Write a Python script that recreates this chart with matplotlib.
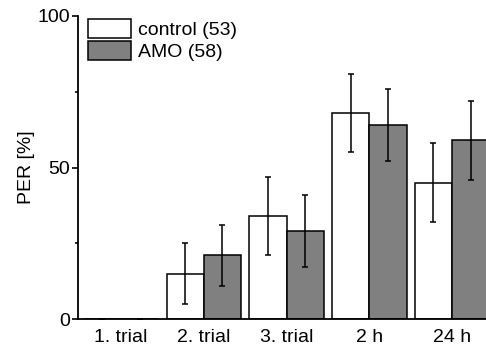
import matplotlib
matplotlib.use("Agg")
import matplotlib.pyplot as plt
import numpy as np

plt.rcParams["font.family"] = ["Liberation Sans", "DejaVu Sans"]

categories = ["1. trial", "2. trial", "3. trial", "2 h", "24 h"]
control = [0, 15, 34, 68, 45]
control_err = [0, 10, 13, 13, 13]
amo = [0, 21, 29, 64, 59]
amo_err = [0, 10, 12, 12, 13]

fig = plt.figure(figsize=(4.86, 3.47), dpi=100)
ax = fig.add_axes([78 / 486, 1 - 319 / 347, 1 - 78 / 486, 303 / 347])

x = np.arange(len(categories))
w = 0.45
err_kw = dict(ecolor="black", elinewidth=1.1, capsize=2.5, capthick=1.1)
ax.bar(x - w / 2, control, w, yerr=control_err, color="white", edgecolor="black",
       linewidth=1.1, error_kw=err_kw, label="control (53)")
ax.bar(x + w / 2, amo, w, yerr=amo_err, color="#808080", edgecolor="black",
       linewidth=1.1, error_kw=err_kw, label="AMO (58)")

ax.set_xlim(-0.52, 4.41)
ax.set_ylim(0, 100)
ax.set_xticks(x)
ax.set_xticklabels(categories, fontsize=14)
ax.tick_params(axis="x", length=0, pad=7)
ax.set_yticks([0, 50, 100])
ax.set_yticks([25, 75], minor=True)
ax.tick_params(axis="y", which="major", length=4, width=1.2, labelsize=14, pad=2)
ax.tick_params(axis="y", which="minor", length=2.5, width=1.2)
ax.set_ylabel("PER [%]", fontsize=14, labelpad=1.7)

for s in ["top", "right"]:
    ax.spines[s].set_visible(False)
ax.spines["left"].set_linewidth(1.3)
ax.spines["bottom"].set_linewidth(1.3)

ax.legend(loc="upper left", bbox_to_anchor=(0.0245, 0.99), frameon=False,
          fontsize=14, handlelength=2.2, handleheight=1.12, handletextpad=0.35,
          labelspacing=0.12, borderpad=0, borderaxespad=0)

fig.savefig("out.png", dpi=100)
